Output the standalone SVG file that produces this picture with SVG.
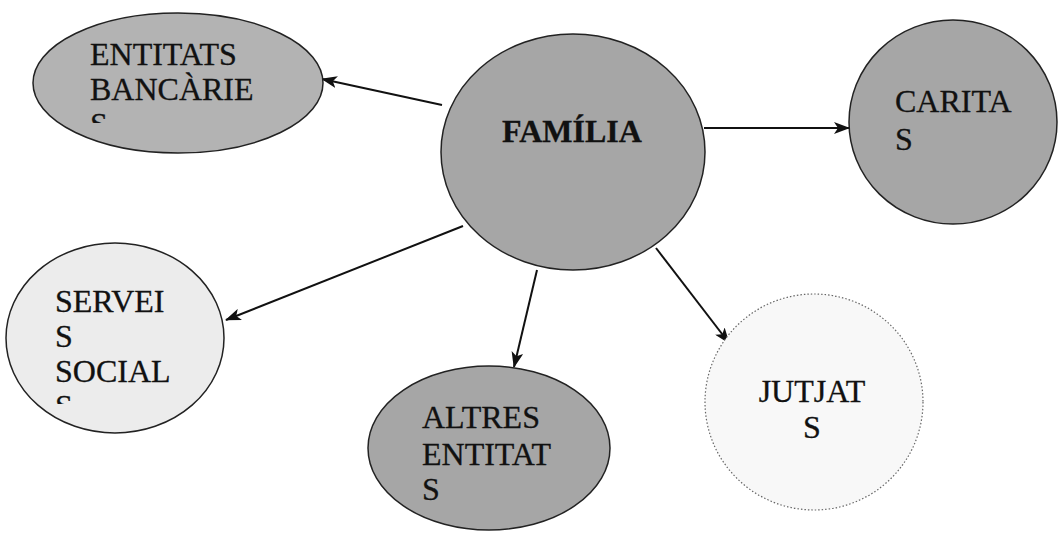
<svg xmlns="http://www.w3.org/2000/svg" width="1058" height="535" viewBox="0 0 1058 535">
<style>
text{font-family:'Liberation Serif','Times New Roman','DejaVu Serif',serif;font-size:32px;fill:#111;stroke:#111;stroke-width:0.3}
.bold{font-weight:bold}
.node{stroke:#222;stroke-width:1.5}
.dark{fill:#a6a6a6}
.mid{fill:#b3b3b3}
.light{fill:#ececec}
.pale{fill:#f8f8f8;stroke:#666;stroke-width:1.2;stroke-dasharray:1.5 2}
.edge{stroke:#111;stroke-width:2;fill:none;marker-end:url(#ah)}
</style>
<defs>
<marker id="ah" viewBox="0 0 16 12" refX="15" refY="6" markerWidth="16" markerHeight="12" markerUnits="userSpaceOnUse" orient="auto">
<path d="M0,0 L16,6 L0,12 L4,6 Z" fill="#111"/>
</marker>
<clipPath id="clipB"><rect x="80" y="105" width="60" height="18"/></clipPath>
<clipPath id="clipS"><rect x="45" y="386" width="60" height="18"/></clipPath>
</defs>
<rect width="1058" height="535" fill="#fff"/>
<g id="connectors">
<line class="edge" x1="442" y1="105" x2="322" y2="79"/>
<line class="edge" x1="704" y1="128" x2="849" y2="128"/>
<line class="edge" x1="463" y1="226" x2="226" y2="320"/>
<line class="edge" x1="537" y1="270" x2="514" y2="367"/>
<line class="edge" x1="656" y1="248" x2="729" y2="343"/>
</g>
<g id="node-entitats-bancaries">
<ellipse class="node mid" cx="178" cy="83" rx="145" ry="70"/>
<text x="90" y="65">ENTITATS</text>
<text x="90" y="100">BANCÀRIE</text>
<text x="90" y="135" clip-path="url(#clipB)">S</text>
</g>
<g id="node-familia">
<ellipse class="node dark" cx="573" cy="152" rx="132" ry="118"/>
<text class="bold" x="572" y="142" text-anchor="middle" font-size="31">FAMÍLIA</text>
</g>
<g id="node-caritas">
<ellipse class="node dark" cx="953" cy="122" rx="104" ry="102"/>
<text x="895" y="112">CARITA</text>
<text x="895" y="150">S</text>
</g>
<g id="node-serveis-socials">
<ellipse class="node light" cx="115" cy="338" rx="109" ry="95"/>
<text x="55" y="312">SERVEI</text>
<text x="55" y="347">S</text>
<text x="55" y="382">SOCIAL</text>
<text x="55" y="417" clip-path="url(#clipS)">S</text>
</g>
<g id="node-altres-entitats">
<ellipse class="node dark" cx="489" cy="448" rx="121" ry="82"/>
<text x="422" y="428">ALTRES</text>
<text x="422" y="465">ENTITAT</text>
<text x="422" y="500">S</text>
</g>
<g id="node-jutjats">
<ellipse class="pale" cx="814" cy="402" rx="109" ry="108"/>
<text x="812" y="402" text-anchor="middle">JUTJAT</text>
<text x="812" y="438" text-anchor="middle">S</text>
</g>
</svg>
